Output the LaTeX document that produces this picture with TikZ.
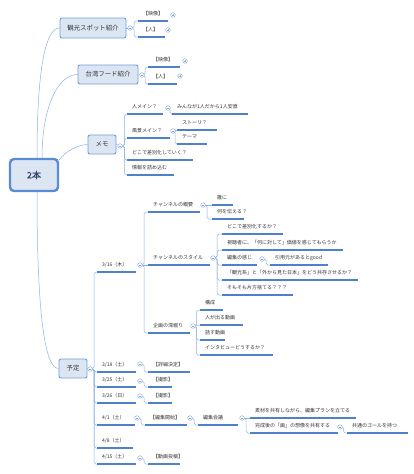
\documentclass[tikz,border=0pt]{standalone}
\usepackage{fontspec}
\newfontfamily\jp{Noto Sans CJK JP}
\newfontfamily\jpb[FakeBold=1.5]{Noto Sans CJK JP}
\usetikzlibrary{calc}
\pgfdeclarelayer{bg}
\pgfsetlayers{bg,main}
\definecolor{linec}{HTML}{8DB2E2}
\definecolor{ulc}{HTML}{4E80CB}
\definecolor{boxfill}{HTML}{DCE6F3}
\definecolor{boxdraw}{HTML}{6F9DDC}
\definecolor{rootdraw}{HTML}{5A8CD6}
\definecolor{knobc}{HTML}{86A6D4}
\definecolor{txt}{HTML}{333333}
\definecolor{roottxt}{HTML}{2E4468}
\tikzset{
  conn/.style={draw=linec, line width=0.5pt, rounded corners=1.8pt},
  uline/.style={draw=ulc, line width=1.1pt},
  topic/.style={anchor=base west, inner sep=0pt, font=\jp\fontsize{5}{6}\selectfont, text=txt},
  mbox/.style={draw=boxdraw, fill=boxfill, line width=0.9pt, rounded corners=2pt,
    font=\jp\fontsize{6.4}{7.5}\selectfont, text=txt, inner sep=0pt},
  rootbox/.style={draw=rootdraw, fill=boxfill, line width=2.4pt, rounded corners=4pt,
    font=\jpb\fontsize{9}{10}\selectfont, text=roottxt, inner sep=0pt,
    minimum width=48pt, minimum height=32pt},
  knob/.style={circle, draw=knobc, fill=white, line width=0.4pt, minimum size=4.6pt, inner sep=0pt},
  kminus/.style={knob, path picture={\draw[knobc,line width=0.4pt]
    ([xshift=-1.3pt]path picture bounding box.center) -- ([xshift=1.3pt]path picture bounding box.center);}},
  kplus/.style={knob, path picture={\draw[knobc,line width=0.4pt]
    ([xshift=-1.3pt]path picture bounding box.center) -- ([xshift=1.3pt]path picture bounding box.center)
    ([yshift=-1.3pt]path picture bounding box.center) -- ([yshift=1.3pt]path picture bounding box.center);}}
}
% topic: name, x start, y line, x end, text
\newcommand\mmtopic[5]{%
  \coordinate (#1-a) at (#2,#3);
  \coordinate (#1-b) at (#4,#3);
  \draw[uline] (#1-a) -- (#1-b);
  \node[topic] (#1) at (#2+5,#3-5.3) {#5};
}
% link: from knob, to topic start, spine offset
\newcommand\mmlink[3]{\draw[conn] (#1.center) -- ++(#3,0) |- (#2-a);}
\newcommand\mmstraight[2]{\draw[conn] (#1.center) -- (#2-a);}
\begin{document}
\begin{tikzpicture}[x=1pt,y=-1pt]
\useasboundingbox (0,0) rectangle (414,474);

% main boxes
\node[rootbox] (root) at (34,175) {2本};
\node[mbox, minimum width=66pt, minimum height=20pt] (kanko) at (93,28) {観光スポット紹介};
\node[mbox, minimum width=60pt, minimum height=19pt] (taiwan) at (108,74.5) {台湾フード紹介};
\node[mbox, minimum width=28pt, minimum height=19pt] (memo) at (102,144.5) {メモ};
\node[mbox, minimum width=28pt, minimum height=19pt] (yotei) at (73,368.5) {予定};

% kanko children
\mmtopic{k1}{138}{21}{168}{【映像】}
\mmtopic{k2}{138}{37}{165}{【人】}
\node[kminus] (kk) at (130,28) {};
\node[kplus] (kk1) at (173,15) {};
\node[kplus] (kk2) at (168,30) {};

% taiwan children
\mmtopic{t1}{148}{67}{180}{【映像】}
\mmtopic{t2}{148}{84}{177}{【人】}
\node[kminus] (kt) at (142,75) {};
\node[kplus] (kt1) at (185,61) {};
\node[kplus] (kt2) at (180,76) {};

% memo children
\mmtopic{m1}{127}{114}{163}{人メイン？}
\mmtopic{m1a}{172}{114}{248}{みんなが1人だから1人安直}
\mmtopic{m2}{127}{138}{170}{風景メイン？}
\mmtopic{m2a}{177}{130}{217}{ストーリ？}
\mmtopic{m2b}{177}{144}{207}{テーマ}
\mmtopic{m3}{127}{160}{193}{どこで差別化していく？}
\mmtopic{m4}{127}{175}{174}{情報を詰め込む}
\node[kminus] (km) at (120,146) {};
\node[kminus] (km1) at (168,108) {};
\node[kminus] (km2) at (173,131) {};

% yotei children
\mmtopic{d1}{97}{272}{136}{3/16（木）}
\node[kminus] (kd1) at (140,265) {};
\mmtopic{c1}{148}{212}{200}{チャンネルの概要}
\node[kminus] (kc1) at (203,205) {};
\mmtopic{c1a}{212}{205}{233}{誰に}
\mmtopic{c1b}{212}{219}{244}{何を伝える？}
\mmtopic{c2}{148}{265}{210}{チャンネルのスタイル}
\node[kminus] (kc2) at (213,258) {};
\mmtopic{c2a}{222}{234}{283}{どこで差別化するか？}
\mmtopic{c2b}{222}{250}{343}{視聴者に、「何に対して」価値を感じてもらうか}
\mmtopic{c2c}{222}{265}{257}{編集の感じ}
\node[kminus] (kc2c) at (262,259) {};
\mmtopic{c2c1}{270}{265}{328}{引用元があるとgood}
\mmtopic{c2d}{222}{280}{358}{「観光系」と「外から見た日本」をどう共存させるか？}
\mmtopic{c2e}{222}{295}{293}{そもそも片方捨てる？？？}
\mmtopic{c3}{148}{333}{190}{企画の深堀り}
\node[kminus] (kc3) at (193,326) {};
\mmtopic{c3a}{200}{310}{223}{構成}
\mmtopic{c3b}{200}{325}{243}{人が出る動画}
\mmtopic{c3c}{200}{340}{225}{話す動画}
\mmtopic{c3d}{200}{355}{273}{インタビューどうするか？}

\mmtopic{d2}{97}{372}{136}{3/18（土）}
\node[kminus] (kd2) at (140,364) {};
\mmtopic{d2a}{148}{372}{190}{【詳細決定】}
\mmtopic{d3}{97}{387}{136}{3/25（土）}
\node[kminus] (kd3) at (140,381) {};
\mmtopic{d3a}{148}{387}{172}{【撮影】}
\mmtopic{d4}{97}{403}{136}{3/26（日）}
\node[kminus] (kd4) at (140,396) {};
\mmtopic{d4a}{148}{403}{172}{【撮影】}
\mmtopic{d5}{97}{425}{135}{4/1（土）}
\node[kminus] (kd5) at (137,418) {};
\mmtopic{d5a}{145}{425}{187}{【編集開始】}
\node[kminus] (kd5a) at (190,418) {};
\mmtopic{d5b}{198}{425}{238}{編集会議}
\node[kminus] (kd5b) at (242,418) {};
\mmtopic{d5c}{250}{418}{356}{素材を共有しながら、編集プランを立てる}
\mmtopic{d5d}{250}{433}{338}{完成後の「画」の想像を共有する}
\node[kminus] (kd5d) at (340,427) {};
\mmtopic{d5e}{347}{433}{408}{共通のゴールを持つ}
\mmtopic{d6}{97}{448}{133}{4/8（土）}
\mmtopic{d7}{97}{464}{136}{4/15（土）}
\node[kminus] (kd7) at (140,458) {};
\mmtopic{d7a}{148}{464}{180}{【動画投稿】}
\node[kminus] (ky) at (90,369) {};

\begin{pgfonlayer}{bg}
  % root branches
  \draw[conn] ([xshift=3pt]root.north) .. controls +(0,-100) and +(-12,0) .. (kanko.west);
  \draw[conn] ([xshift=8pt]root.north) .. controls +(0,-50) and +(-20,0) .. (taiwan.west);
  \draw[conn] ([yshift=-2pt]root.north east) .. controls +(6,-8) and +(-10,0) .. (memo.west);
  \draw[conn] ([xshift=3pt]root.south) .. controls +(0,120) and +(-14,0) .. (yotei.west);
  % box to knob
  \draw[conn] (kanko.east) -- (kk.center);
  \draw[conn] (taiwan.east) -- (kt.center);
  \draw[conn] (memo.east) -- (km.center);
  \draw[conn] (yotei.east) -- (ky.center);
  % kanko / taiwan
  \mmlink{kk}{k1}{4}
  \mmlink{kk}{k2}{4}
  \mmlink{kt}{t1}{3}
  \mmlink{kt}{t2}{3}
  % memo
  \mmlink{km}{m1}{4.5}
  \mmlink{km}{m2}{4.5}
  \mmlink{km}{m3}{4.5}
  \mmlink{km}{m4}{4.5}
  \mmlink{km1}{m1a}{2}
  \mmlink{km2}{m2a}{2}
  \mmlink{km2}{m2b}{2}
  % yotei
  \mmlink{ky}{d1}{4}
  \mmlink{ky}{d2}{4}
  \mmlink{ky}{d3}{4}
  \mmlink{ky}{d4}{4}
  \mmlink{ky}{d5}{4}
  \mmlink{ky}{d6}{4}
  \mmlink{ky}{d7}{4}
  \mmlink{kd1}{c1}{4}
  \mmstraight{kd1}{c2}
  \mmlink{kd1}{c3}{4}
  \mmstraight{kc1}{c1a}
  \mmlink{kc1}{c1b}{4}
  \mmlink{kc2}{c2a}{4}
  \mmlink{kc2}{c2b}{4}
  \mmlink{kc2}{c2c}{4}
  \mmlink{kc2}{c2d}{4}
  \mmlink{kc2}{c2e}{4}
  \mmlink{kc2c}{c2c1}{4}
  \mmlink{kc3}{c3a}{3.5}
  \mmstraight{kc3}{c3b}
  \mmlink{kc3}{c3c}{3.5}
  \mmlink{kc3}{c3d}{3.5}
  \mmlink{kd2}{d2a}{4}
  \mmlink{kd3}{d3a}{4}
  \mmlink{kd4}{d4a}{4}
  \mmlink{kd5}{d5a}{4}
  \mmlink{kd5a}{d5b}{4}
  \mmstraight{kd5b}{d5c}
  \mmlink{kd5b}{d5d}{4}
  \mmlink{kd5d}{d5e}{3.5}
  \mmlink{kd7}{d7a}{4}
\end{pgfonlayer}
\end{tikzpicture}
\end{document}
